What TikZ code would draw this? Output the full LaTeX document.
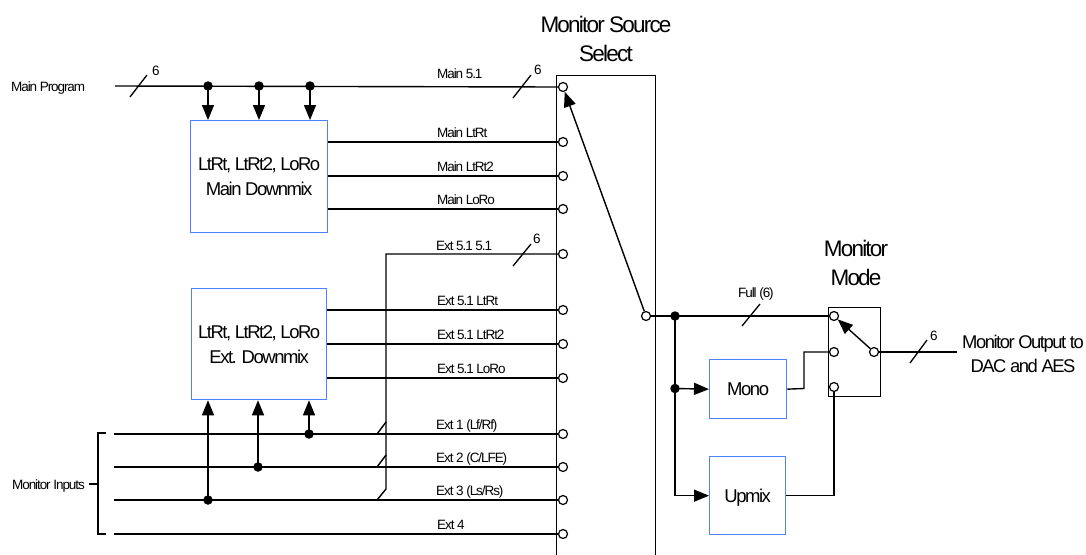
\documentclass[tikz,border=0pt]{standalone}
\usepackage{fontspec}
\setmainfont{Liberation Sans}[LetterSpace=-8]
\usetikzlibrary{arrows.meta,calc}
\definecolor{boxblue}{RGB}{80,130,255}
\begin{document}
\begin{tikzpicture}[x=1pt,y=-1pt,
  wire/.style={line width=1.4pt},
  blk/.style={draw=boxblue,line width=1.3pt,fill=white,anchor=north west,inner sep=0,align=center,text depth=0pt,font=\fontsize{18.5}{25}\selectfont},
  lbl/.style={font=\fontsize{13.5}{16}\selectfont,inner sep=0,anchor=base west},
  ttl/.style={font=\fontsize{22.5}{28.5}\selectfont,align=center,inner sep=0},
  port/.style={circle,draw,line width=1.2pt,fill=white,minimum size=9pt,inner sep=0},
  jdot/.style={circle,fill,minimum size=9.5pt,inner sep=0},
  arr/.style={wire,-{Triangle[length=15pt,width=12pt]}},
  slash/.style={line width=1.3pt},
  frame/.style={draw,line width=1.4pt,anchor=north west,inner sep=0}]
\clip (0,0) rectangle (1086,554);
\fill[white] (0,0) rectangle (1086,554);

% blocks
\node[blk,minimum width=137pt,minimum height=112pt] (mdm) at (190,120) {LtRt, LtRt2, LoRo\\Main Downmix};
\node[blk,minimum width=135pt,minimum height=111pt] (edm) at (191,288) {LtRt, LtRt2, LoRo\\Ext. Downmix};
\node[blk,minimum width=77pt,minimum height=59pt] (mono) at (709,359) {Mono};
\node[blk,minimum width=76pt,minimum height=78pt] (upmix) at (709,456) {Upmix};
\node[frame,minimum width=99pt,minimum height=500pt] (sel) at (556,75) {};
\node[frame,minimum width=52pt,minimum height=89pt] (mode) at (828,307) {};

% titles
\node[ttl] (tsel) at (606,39) {Monitor Source\\Select};
\node[ttl] (tmode) at (856,263) {Monitor\\Mode};
\node[align=center,inner sep=0,font=\fontsize{18.4}{24}\selectfont] (tout) at (1023,354) {Monitor Output to\\DAC and AES};

% selector ports
\foreach \n/\y in {1/87,2/142,3/176,4/209,5/254,6/310,7/344,8/378,9/434,10/467,11/500,12/534}
  \node[port] (s\n) at (563,\y) {};
\node[port] (sout) at (646,316) {};
\node[port] (m1) at (834,316) {};
\node[port] (m2) at (834,352) {};
\node[port] (m3) at (834,387) {};
\node[port] (mout) at (874,352) {};

% free ends
\coordinate (mp) at (115,86);
\coordinate (i1) at (114,434);
\coordinate (i2) at (114,467);
\coordinate (i3) at (114,500);
\coordinate (i4) at (114,534);
\coordinate (bus) at (386,254);
\coordinate (busend) at (386,489);
\coordinate (outend) at (957,352);

% junction dots
\node[jdot] (d1) at (208,86) {};
\node[jdot] (d2) at (259,86) {};
\node[jdot] (d3) at (310,86) {};
\node[jdot] (e1) at (208,500) {};
\node[jdot] (e2) at (258,467) {};
\node[jdot] (e3) at (309,434) {};
\node[jdot] (f1) at (675,316) {};
\node[jdot] (f2) at (675,388.5) {};

% main program
\draw[wire] (mp) -- (s1.west);
\foreach \d in {d1,d2,d3} \draw[arr] (\d.center) -- (\d |- mdm.north);
\draw[wire] (mdm.east |- s2) -- (s2.west);
\draw[wire] (mdm.east |- s3) -- (s3.west);
\draw[wire] (mdm.east |- s4) -- (s4.west);

% ext 5.1 bus
\draw[wire] (s5.west) -- (bus) -- (busend) -- (377,500);
\draw[wire] (377,434) -- (386,422);
\draw[wire] (377,467) -- (386,455);
\draw[wire] (edm.east |- s6) -- (s6.west);
\draw[wire] (edm.east |- s7) -- (s7.west);
\draw[wire] (edm.east |- s8) -- (s8.west);

% monitor inputs
\draw[wire] (i1) -- (s9.west);
\draw[wire] (i2) -- (s10.west);
\draw[wire] (i3) -- (s11.west);
\draw[wire] (i4) -- (s12.west);
\foreach \e in {e1,e2,e3} \draw[arr] (\e.center) -- (\e |- edm.south);
\draw[wire] (106,433) -- (98,433) -- (98,534) -- (106,534);
\draw[wire] (89,484) -- (98,484);

% selector arrow
\draw[arr] (sout) -- (s1);

% monitor mode
\draw[wire] (sout.east) -- (m1.west);
\draw[arr] (f1.center) |- (upmix.west);
\draw[arr] (f2.center) -- (mono.west);
\draw[wire] (mono.east) -- (804,388.5) |- (m2.west);
\draw[wire] (upmix.east) -| (m3.south);
\draw[arr] (mout) -- (m1);
\draw[wire] (mout.east) -- (outend);

% bus width slashes
\draw[slash] (130,97) -- (147,75);
\draw[slash] (513,98) -- (531,75);
\draw[slash] (513,266) -- (531,244);
\draw[slash] (742,326) -- (760,304);
\draw[slash] (910,363) -- (927,340);
\node[lbl] (n1) at (152,75) {6};
\node[lbl] (n2) at (534,74) {6};
\node[lbl] (n3) at (533,243) {6};
\node[lbl] (n4) at (930,340) {6};

% labels
\node[lbl] (lmp) at (11,91) {Main Program};
\node[lbl] (lmi) at (12,489) {Monitor Inputs};
\node[lbl] (l1) at (437,78) {Main 5.1};
\node[lbl] (l2) at (437,137) {Main LtRt};
\node[lbl] (l3) at (437,171) {Main LtRt2};
\node[lbl] (l4) at (437,204) {Main LoRo};
\node[lbl] (l5) at (436,250) {Ext 5.1 5.1};
\node[lbl] (l6) at (437,305) {Ext 5.1 LtRt};
\node[lbl] (l7) at (437,339) {Ext 5.1 LtRt2};
\node[lbl] (l8) at (437,373) {Ext 5.1 LoRo};
\node[lbl] (l9) at (436,429) {Ext 1 (Lf/Rf)};
\node[lbl] (l10) at (436,462) {Ext 2 (C/LFE)};
\node[lbl] (l11) at (436,495) {Ext 3 (Ls/Rs)};
\node[lbl] (l12) at (437,529) {Ext 4};
\node[lbl] (lfull) at (738,297) {Full (6)};
\end{tikzpicture}
\end{document}
